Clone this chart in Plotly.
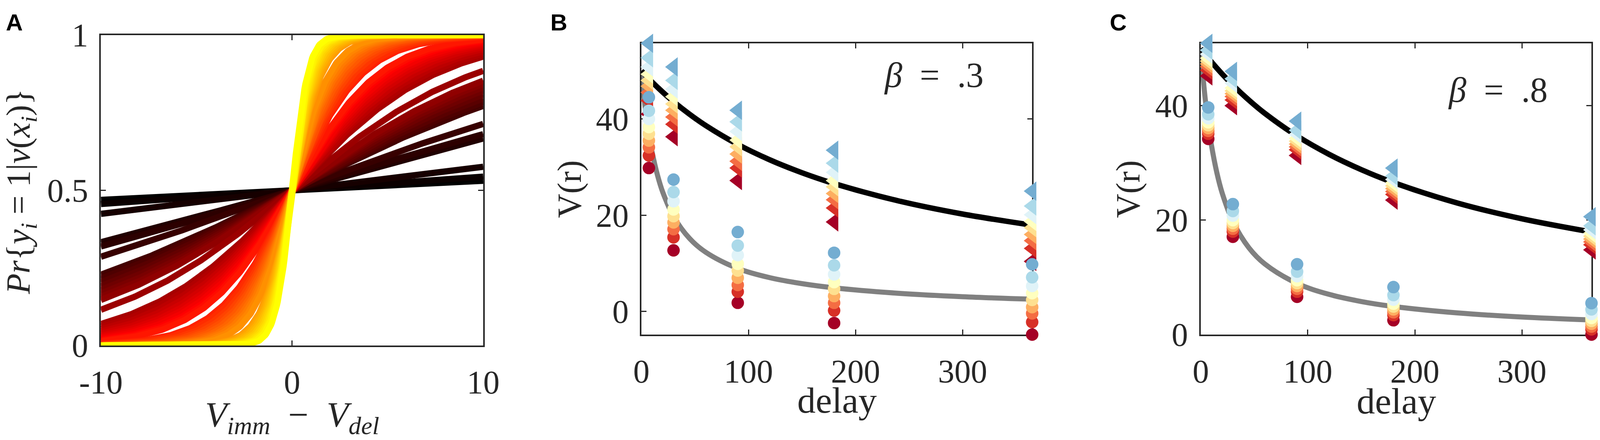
import numpy as np
import plotly.graph_objects as go

# reference picture geometry: positions below are read in this frame
REF_W, REF_H = 4328, 1127
# drawing canvas (the browser shows at most ~4096 px across)
W, H = 4096, 1127

# ---------------- Panel A data ----------------
a_xticks = [-10, 0, 10]
a_xticktext = ["-10", "0", "10"]
a_yticks = [0, 0.5, 1]
a_yticktext = ["0", "0.5", "1"]
# slopes of the logistic choice curves (flat -> steep)
slopes = [0.0124, 0.0177, 0.0306, 0.0695, 0.0758, 0.0915,
          0.122, 0.129, 0.136, 0.144, 0.152, 0.160, 0.168, 0.176,
          0.204,
          0.260, 0.275, 0.290, 0.306, 0.323, 0.341, 0.358, 0.375, 0.396, 0.412, 0.430,
          0.53, 0.56, 0.60, 0.64, 0.68, 0.72, 0.77, 0.82, 0.87, 0.93, 1.00,
          1.25, 1.33, 1.42, 1.52, 1.63, 1.75, 1.88, 2.02, 2.17, 2.40]

# ---------------- Panels B / C data ----------------
delays = [7, 30, 90, 180, 365]
level_colors = ["#a50026", "#d73027", "#f46d43", "#fdae61", "#fee090",
                "#ffffbf", "#e0f3f8", "#abd9e9", "#74add1"]
# rows = delays, columns = colour levels (dark red -> blue)
b_triangles = [
    [41.0, 43.8, 45.5, 46.8, 48.0, 49.3, 50.8, 52.7, 55.7],
    [36.3, 38.9, 40.4, 41.8, 43.1, 44.6, 46.2, 48.0, 50.8],
    [27.2, 29.8, 31.2, 32.7, 34.2, 35.6, 37.4, 39.4, 41.8],
    [18.6, 21.5, 23.2, 24.5, 25.9, 27.2, 28.9, 30.8, 33.5],
    [10.4, 13.1, 14.7, 16.0, 17.4, 18.7, 20.1, 21.9, 25.0],
]
b_circles = [
    [29.8, 32.4, 34.1, 35.5, 36.9, 38.3, 40.0, 41.7, 44.5],
    [12.7, 15.4, 17.1, 18.5, 19.8, 21.2, 22.9, 24.8, 27.4],
    [1.8, 4.1, 5.5, 7.0, 8.5, 9.9, 11.7, 13.7, 16.5],
    [-2.4, 0.2, 1.8, 3.2, 4.7, 6.1, 7.7, 9.6, 12.2],
    [-4.8, -2.2, -0.4, 0.9, 2.4, 3.8, 5.3, 7.1, 9.8],
]
c_triangles = [
    [45.2, 46.2, 46.8, 47.3, 47.8, 48.3, 49.0, 49.7, 50.9],
    [40.0, 41.0, 41.6, 42.1, 42.6, 43.1, 43.9, 44.7, 46.0],
    [31.3, 32.3, 32.8, 33.3, 33.8, 34.3, 35.0, 35.7, 37.3],
    [23.5, 24.5, 25.0, 25.5, 26.0, 26.5, 27.1, 27.7, 29.1],
    [14.8, 15.7, 16.2, 16.7, 17.2, 17.7, 18.3, 19.0, 20.6],
]
c_circles = [
    [34.2, 35.1, 35.6, 36.1, 36.6, 37.1, 37.8, 38.5, 39.7],
    [17.1, 18.0, 18.5, 19.0, 19.5, 20.0, 20.8, 21.6, 22.8],
    [6.6, 7.5, 8.0, 8.5, 9.0, 9.5, 10.2, 11.0, 12.3],
    [2.5, 3.4, 3.9, 4.4, 4.9, 5.4, 6.1, 6.9, 8.3],
    [0.0, 0.9, 1.4, 1.9, 2.4, 2.9, 3.6, 4.4, 5.5],
]
# model curves (value vs delay)
curve_delay = [0, 2, 4, 7, 10, 15, 20, 30, 45, 60, 90, 120, 150, 180, 240, 300, 365]
curve_black = [50.0, 49.51, 49.04, 48.34, 47.66, 46.58, 45.54, 43.59, 40.97, 38.64,
               34.70, 31.49, 28.82, 26.57, 22.98, 20.24, 17.93]
curve_gray = [50.0, 45.37, 41.53, 36.85, 33.11, 28.33, 24.75, 19.76, 15.17, 12.32,
              8.94, 7.02, 5.78, 4.91, 3.78, 3.07, 2.55]
bc_xticks = [0, 100, 200, 300]
bc_yticks = [0, 20, 40]

# ---------------- style ----------------
AX = "#262626"
SERIF = "Liberation Serif"
TICKFONT = dict(family=SERIF, size=84, color=AX)


def hot(t):
    if t <= 0.5:
        r, g = t / 0.5, 0.0
    else:
        r, g = 1.0, (t - 0.5) / 0.5
    return "rgb(%d,%d,0)" % (round(255 * r), round(255 * g))


def fx(x):
    return x / REF_W


def fy(y):
    return 1 - y / REF_H


fig = go.Figure()

# Panel A curves
xg = np.linspace(-10, 10, 401)
n = len(slopes)
for i, k in enumerate(slopes):
    p = 1.0 / (1.0 + np.exp(-k * xg))
    fig.add_trace(go.Scatter(x=xg, y=p, mode="lines", xaxis="x", yaxis="y",
                             line=dict(color=hot(i / (n - 1)), width=16),
                             hoverinfo="skip", showlegend=False))


def add_bc(xa, ya, tri, circ):
    fig.add_trace(go.Scatter(x=curve_delay, y=curve_gray, mode="lines", xaxis=xa, yaxis=ya,
                             line=dict(color="#808080", width=13, shape="spline"),
                             showlegend=False))
    fig.add_trace(go.Scatter(x=curve_delay, y=curve_black, mode="lines", xaxis=xa, yaxis=ya,
                             line=dict(color="#000000", width=14, shape="spline"),
                             showlegend=False))
    for j, col in enumerate(level_colors):
        fig.add_trace(go.Scatter(x=delays, y=[row[j] for row in tri], mode="markers",
                                 xaxis=xa, yaxis=ya, cliponaxis=False,
                                 marker=dict(symbol="triangle-left", size=43, color=col,
                                             line=dict(width=0)),
                                 showlegend=False))
    for j, col in enumerate(level_colors):
        fig.add_trace(go.Scatter(x=delays, y=[row[j] for row in circ], mode="markers",
                                 xaxis=xa, yaxis=ya, cliponaxis=False,
                                 marker=dict(symbol="circle", size=32, color=col,
                                             line=dict(width=0)),
                                 showlegend=False))


add_bc("x2", "y2", b_triangles, b_circles)
add_bc("x3", "y3", c_triangles, c_circles)

b_all = [v for row in b_triangles + b_circles for v in row]
c_all = [v for row in c_triangles + c_circles for v in row]

axstyle = dict(showline=True, linecolor=AX, linewidth=3.5, mirror="ticks",
               ticks="inside", ticklen=13, tickwidth=3, tickcolor=AX,
               showgrid=False, zeroline=False, tickfont=TICKFONT, layer="below traces",
               automargin=False)
xstand = 18
ystand = 12

fig.update_layout(
    width=W, height=H, margin=dict(l=0, r=0, t=0, b=0, autoexpand=False),
    paper_bgcolor="white", plot_bgcolor="white", showlegend=False,
    xaxis=dict(domain=[fx(273), fx(1307)], range=[-10, 10], anchor="y",
               tickvals=a_xticks, ticktext=a_xticktext, ticklabelstandoff=xstand, **axstyle),
    yaxis=dict(domain=[fy(885), fy(90)], range=[0, 1], anchor="x",
               tickvals=a_yticks, ticktext=a_yticktext, ticklabelstandoff=ystand, **axstyle),
    xaxis2=dict(domain=[fx(1735), fx(2792)], range=[0, 365], anchor="y2",
                tickvals=bc_xticks, ticklabelstandoff=xstand, **axstyle),
    yaxis2=dict(domain=[fy(857), fy(111)], range=[min(b_all), max(b_all)], anchor="x2",
                tickvals=bc_yticks, ticklabelstandoff=ystand, **axstyle),
    xaxis3=dict(domain=[fx(3248), fx(4305)], range=[0, 365], anchor="y3",
                tickvals=bc_xticks, ticklabelstandoff=xstand, **axstyle),
    yaxis3=dict(domain=[fy(857), fy(111)], range=[min(c_all), max(c_all)], anchor="x3",
                tickvals=bc_yticks, ticklabelstandoff=ystand, **axstyle),
)

ann = []


def txt(x, y, text, size=84, angle=0, family=SERIF, xanchor="center", yanchor="middle",
        color=AX):
    ann.append(dict(x=fx(x), y=fy(y), xref="paper", yref="paper", text=text,
                    showarrow=False, textangle=angle, xanchor=xanchor, yanchor=yanchor,
                    font=dict(family=family, size=size, color=color)))


# panel letters
for lx, letter in [(14, "A"), (1487, "B"), (3000, "C")]:
    txt(lx, 22, "<b>%s</b>" % letter, size=60, family="Liberation Sans",
        xanchor="left", yanchor="top", color="#000000")

# axis titles
txt(790, 1068, "<i>V<sub>imm</sub></i>&nbsp; − &nbsp;<i>V<sub>del</sub></i>", size=92)
txt(56, 490, "<i>Pr</i>{<i>y<sub>i</sub></i>&nbsp;=&nbsp;1|<i>v</i>(<i>x<sub>i</sub></i>)}",
    size=86, angle=-90)
txt(2264, 1025, "delay", size=94)
txt(1541, 484, "V(r)", size=86, angle=-90)
txt(3777, 1027, "delay", size=94)
txt(3052, 484, "V(r)", size=86, angle=-90)
# beta annotations
txt(2526, 192, "<i>β</i>&nbsp;&nbsp;=&nbsp;&nbsp;.3", size=90)
txt(4052, 230, "<i>β</i>&nbsp;&nbsp;=&nbsp;&nbsp;.8", size=90)

fig.update_layout(annotations=ann)
fig.write_html("out.html", config={"displayModeBar": False},
               post_script="document.body.style.margin='0px';")
